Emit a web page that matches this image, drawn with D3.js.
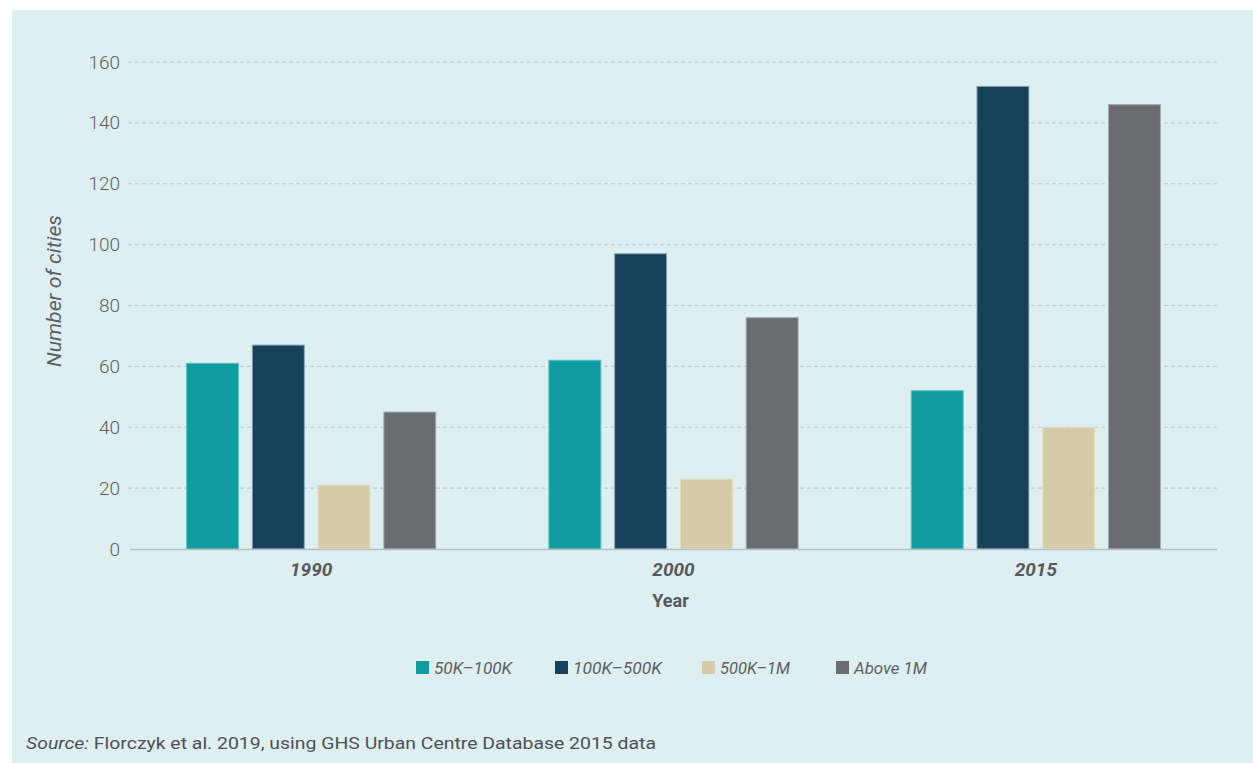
<!DOCTYPE html>
<html>
<head>
<meta charset="utf-8">
<script src="https://cdn.jsdelivr.net/npm/d3@7"></script>
<style>
  html, body { margin: 0; padding: 0; background: #ffffff; }
  svg { display: block; }
  text { font-family: "Roboto", "Open Sans", sans-serif; }
</style>
</head>
<body>
<svg id="chart" width="1253" height="763"></svg>
<script>
// Number of cities by population size class
const years = ["1990", "2000", "2015"];
const sizeClasses = ["50K\u2013100K", "100K\u2013500K", "500K\u20131M", "Above 1M"];
const cities50to100K = [61, 62, 52];
const cities100to500K = [67, 97, 152];
const cities500Kto1M = [21, 23, 40];
const citiesAbove1M = [45, 76, 146];
const yTicks = [0, 20, 40, 60, 80, 100, 120, 140, 160];
const colors = ["#0f9da2", "#16425b", "#d5cba8", "#6b6c70"];
const strokes = ["#5fc0c3", "#8aa6b4", "#e6dfc6", "#a9acad"];

const seriesValues = [cities50to100K, cities100to500K, cities500Kto1M, citiesAbove1M];
const rows = years.map((y, i) => ({
  year: y,
  values: sizeClasses.map((c, j) => ({ key: c, idx: j, value: seriesValues[j][i] }))
}));

const svg = d3.select("#chart");

// panel background
svg.append("rect")
  .attr("x", 12).attr("y", 10)
  .attr("width", 1241).attr("height", 753)
  .attr("fill", "#ddeff1");

const plot = { left: 130, right: 1217, top: 62, bottom: 549 };

const y = d3.scaleLinear().domain([0, 160]).range([plot.bottom, plot.top]);
const x0 = d3.scaleBand().domain(years).range([plot.left, plot.right]).padding(0);
const x1 = d3.scaleBand().domain(sizeClasses).range([0, x0.bandwidth()])
  .paddingInner(0.21).paddingOuter(0.86);

// gridlines
svg.append("g")
  .selectAll("line")
  .data(yTicks.filter(t => t > 0))
  .join("line")
  .attr("x1", plot.left - 2).attr("x2", plot.right)
  .attr("y1", d => y(d)).attr("y2", d => y(d))
  .attr("stroke", "#c5cdd1")
  .attr("stroke-width", 1.2)
  .attr("stroke-dasharray", "4,3");

// y axis tick labels
const yAxis = d3.axisLeft(y).tickValues(yTicks).tickSize(0).tickPadding(10);
const gy = svg.append("g").attr("transform", `translate(${plot.left},0)`).call(yAxis);
gy.select(".domain").remove();
gy.selectAll("text")
  .attr("font-size", 19)
  .attr("fill", "#5e5f62")
  .style("font-family", "Roboto, sans-serif")
  .style("font-weight", 300);

// bars
const groups = svg.append("g")
  .selectAll("g")
  .data(rows)
  .join("g")
  .attr("transform", d => `translate(${x0(d.year)},0)`);

groups.selectAll("rect")
  .data(d => d.values)
  .join("rect")
  .attr("x", d => x1(d.key))
  .attr("y", d => y(d.value))
  .attr("width", x1.bandwidth())
  .attr("height", d => y(0) - y(d.value))
  .attr("fill", d => colors[d.idx])
  .attr("stroke", d => strokes[d.idx])
  .attr("stroke-width", 1);

// x axis baseline
svg.append("line")
  .attr("x1", plot.left).attr("x2", plot.right)
  .attr("y1", plot.bottom + 0.5).attr("y2", plot.bottom + 0.5)
  .attr("stroke", "#b7c1c5")
  .attr("stroke-width", 1.5);

// x axis labels
const xAxis = d3.axisBottom(x0).tickSize(0).tickPadding(14);
const gx = svg.append("g").attr("transform", `translate(0,${plot.bottom})`).call(xAxis);
gx.select(".domain").remove();
gx.selectAll("text")
  .attr("font-size", 19)
  .attr("fill", "#58595c")
  .style("font-weight", 700)
  .style("font-style", "italic");

// axis titles
svg.append("text")
  .attr("x", x0.range()[0] + (x0.range()[1] - x0.range()[0]) / 2 - 3)
  .attr("y", 607)
  .attr("text-anchor", "middle")
  .attr("font-size", 18)
  .attr("font-weight", 700)
  .attr("fill", "#58595c")
  .text("Year");

svg.append("text")
  .attr("transform", "translate(61,291) rotate(-90)")
  .attr("text-anchor", "middle")
  .attr("font-size", 20)
  .attr("font-style", "italic")
  .attr("fill", "#5e5f62")
  .attr("textLength", 152)
  .attr("lengthAdjust", "spacingAndGlyphs")
  .text("Number of cities");

// legend
const legendX = [416, 555, 702, 836];
const legendW = [78, 89, 70, 73];
const legend = svg.append("g")
  .selectAll("g")
  .data(sizeClasses)
  .join("g")
  .attr("transform", (d, i) => `translate(${legendX[i]},661)`);
legend.append("rect")
  .attr("width", 13).attr("height", 13)
  .attr("fill", (d, i) => colors[i]);
legend.append("text")
  .attr("x", 18).attr("y", 13)
  .attr("font-size", 17)
  .attr("font-style", "italic")
  .attr("fill", "#5e5f62")
  .attr("textLength", (d, i) => legendW[i])
  .attr("lengthAdjust", "spacingAndGlyphs")
  .text(d => d);

// source note
const src = svg.append("text")
  .attr("x", 26).attr("y", 749)
  .attr("font-size", 16.5)
  .attr("fill", "#505154")
  .attr("textLength", 630)
  .attr("lengthAdjust", "spacingAndGlyphs");
src.append("tspan").attr("font-style", "italic").text("Source:");
src.append("tspan").text(" Florczyk et al. 2019, using GHS Urban Centre Database 2015 data");
</script>
</body>
</html>
